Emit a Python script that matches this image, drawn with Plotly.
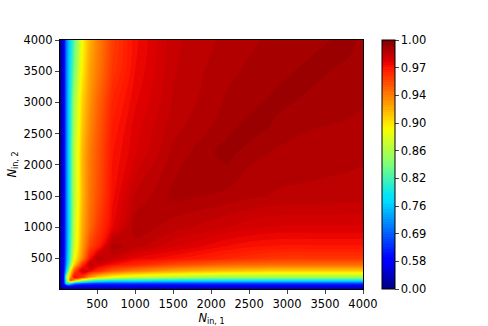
import numpy as np
import plotly.graph_objects as go

n1 = [10, 60, 100, 150, 200, 300, 400, 500, 700, 1000, 1500, 2200, 2550, 2900, 3350, 3830, 4000]
n2 = [10, 60, 100, 150, 200, 300, 400, 500, 700, 1000, 1500, 2200, 2600, 3040, 3520, 4000]
eff_y10 = [.00,.05,.10,.15,.20,.20,.20,.20,.20,.20,.20,.20,.20,.20,.20,.20,.20]
eff_y60 = [.05,.50,.55,.56,.56,.55,.55,.55,.55,.55,.55,.55,.55,.55,.55,.55,.55]
eff_y100 = [.10,.55,.80,.78,.72,.68,.67,.66,.66,.66,.66,.66,.66,.66,.66,.66,.66]
eff_y150 = [.10,.58,.84,.955,.92,.87,.84,.82,.80,.80,.79,.79,.79,.79,.79,.79,.79]
eff_y200 = [.15,.58,.86,.93,.975,.96,.93,.91,.89,.875,.865,.855,.855,.855,.855,.855,.855]
eff_y300 = [.20,.55,.78,.90,.95,.982,.975,.965,.95,.94,.925,.915,.912,.91,.91,.91,.91]
eff_y400 = [.20,.55,.74,.85,.91,.96,.984,.98,.972,.965,.955,.947,.946,.945,.945,.945,.945]
eff_y500 = [.15,.52,.73,.83,.89,.935,.97,.986,.982,.975,.971,.965,.962,.96,.96,.96,.96]
eff_y700 = [.10,.52,.72,.82,.875,.925,.955,.965,.988,.985,.979,.973,.971,.97,.97,.97,.97]
eff_y1000 = [.05,.50,.72,.81,.87,.92,.945,.958,.975,.9885,.985,.981,.979,.978,.978,.978,.978]
eff_y1500 = [.03,.50,.72,.81,.865,.915,.942,.952,.972,.984,.990,.9885,.987,.986,.9857,.9853,.985]
eff_y2200 = [.02,.50,.72,.81,.865,.915,.94,.95,.97,.978,.9873,.9932,.9900,.9888,.988,.9874,.9872]
eff_y2600 = [.02,.50,.72,.805,.86,.91,.935,.948,.968,.977,.9855,.9908,.9938,.9905,.9893,.9888,.9885]
eff_y3040 = [.01,.50,.72,.80,.855,.905,.93,.945,.965,.975,.984,.9895,.9907,.9932,.9907,.99,.9895]
eff_y3520 = [.00,.50,.72,.79,.84,.895,.925,.94,.96,.973,.9835,.9885,.9898,.9907,.9932,.9907,.99]
eff_y4000 = [.00,.50,.72,.78,.83,.89,.92,.937,.958,.972,.983,.9873,.9888,.9903,.9907,.9932,.9907]
rows = [eff_y10, eff_y60, eff_y100, eff_y150, eff_y200, eff_y300, eff_y400, eff_y500,
        eff_y700, eff_y1000, eff_y1500, eff_y2200, eff_y2600, eff_y3040, eff_y3520, eff_y4000]
bar_labels = ["0.00", "0.58", "0.69", "0.76", "0.82", "0.86", "0.90", "0.94", "0.97", "1.00"]
axis_ticks = [500, 1000, 1500, 2000, 2500, 3000, 3500, 4000]

bar_values = [float(s) for s in bar_labels]
bar_pos = list(range(len(bar_labels)))
z = np.interp(np.array(rows), bar_values, bar_pos)

jet = [[0, "rgb(0,0,127)"], [0.11, "rgb(0,0,255)"], [0.125, "rgb(0,0,255)"],
       [0.35, "rgb(0,219,255)"], [0.375, "rgb(0,229,247)"], [0.5, "rgb(124,255,121)"],
       [0.64, "rgb(247,255,0)"], [0.66, "rgb(255,236,0)"], [0.89, "rgb(255,18,0)"],
       [0.91, "rgb(228,0,0)"], [1, "rgb(127,0,0)"]]

FONT = "DejaVu Sans"
fig = go.Figure(go.Contour(
    x=n1, y=n2, z=z, colorscale=jet, zmin=0, zmax=9,
    autocontour=False,
    contours=dict(coloring="fill", start=0, end=9, size=0.09, showlines=False),
    line=dict(width=0),
    colorbar=dict(tickmode="array", tickvals=bar_pos, ticktext=bar_labels,
                  thickness=13, len=1, lenmode="fraction", x=1.063, xanchor="left",
                  y=0.5, yanchor="middle", outlinecolor="black", outlinewidth=1,
                  ticks="outside", ticklen=3.5, tickwidth=1, xpad=0, ypad=0,
                  tickfont=dict(family=FONT, size=11.5, color="black")),
))
axis = dict(tickmode="array", tickvals=axis_ticks, ticks="outside", ticklen=4, tickwidth=1,
            showgrid=False, zeroline=False, showline=True, linecolor="black", linewidth=1,
            mirror=True, range=[10, 4000], tickfont=dict(family=FONT, size=11.5, color="black"))
fig.update_layout(
    width=488, height=326, margin=dict(l=60, r=125, t=40, b=37, autoexpand=False),
    paper_bgcolor="white", plot_bgcolor="white",
    xaxis=dict(axis, title=dict(text="<i>N</i><sub>in, 1</sub>", standoff=4,
                                font=dict(family=FONT, size=11.5, color="black"))),
    yaxis=dict(axis, title=dict(text="<i>N</i><sub>in, 2</sub>", standoff=4,
                                font=dict(family=FONT, size=11.5, color="black"))),
)
fig.write_html("out.html", post_script="document.body.style.margin='0';",
               config=dict(displayModeBar=False))
